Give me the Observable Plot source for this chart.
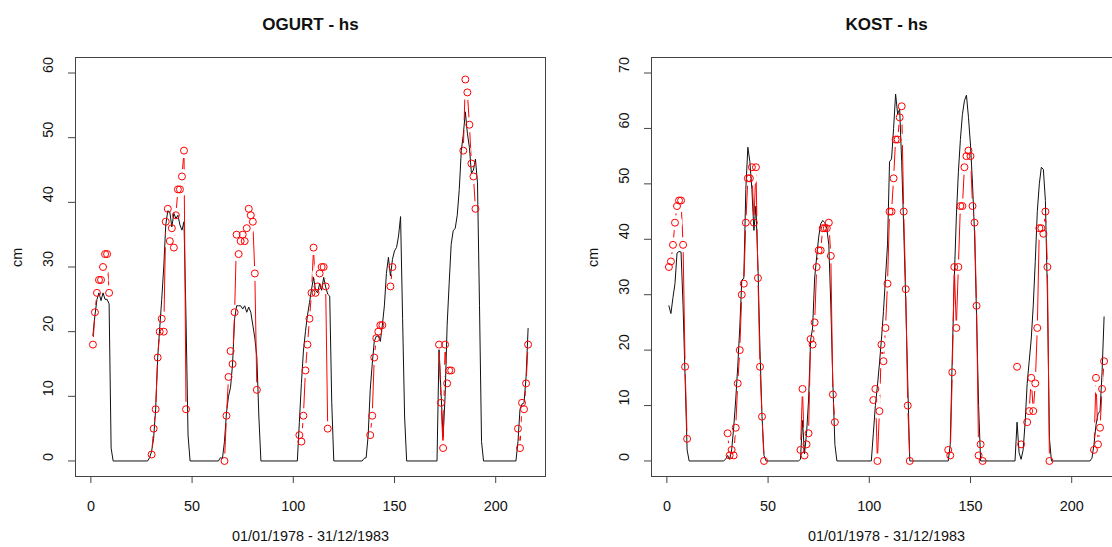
<!DOCTYPE html>
<html><head><meta charset="utf-8">
<script src="https://cdn.jsdelivr.net/npm/d3@7"></script>
<script src="https://cdn.jsdelivr.net/npm/@observablehq/plot@0.6"></script>
<style>
html,body{margin:0;padding:0;background:#fff;}
#wrap{position:relative;width:1112px;height:547px;overflow:hidden;background:#fff;}
.panel{position:absolute;top:0;width:576px;height:547px;}
.panel svg{max-width:none !important;width:576px !important;height:547px !important;}
</style></head><body><div id="wrap"></div>
<script>
// ---- shared axis text ----
const xTicks = [0, 50, 100, 150, 200];
const xLabel = "01/01/1978 - 31/12/1983";
const yLabel = "cm";

// ---- OGURT (left panel) ----
const ogurtTitle = "OGURT - hs";
const ogurtYTicks = [0, 10, 20, 30, 40, 50, 60];
const ogurtSimX = [1,2,3,4,5,6,7,8,9,10,11,
  28,29,30,31,32,33,34,35,36,37,38,39,40,41,42,43,44,45,46,47,48,49,
  63,64,65,66,67,68,69,70,71,72,73,74,75,76,77,78,79,80,81,82,83,84,
  102,103,104,105,106,107,108,109,110,111,112,113,114,115,116,117,118,119,120,
  134,135,136,137,138,139,140,141,142,143,144,145,146,147,148,149,150,151,152,153,154,155,156,
  171,172,173,174,175,176,177,178,179,180,181,182,183,184,185,186,187,188,189,190,191,192,193,194,
  210,211,212,213,214,215,216];
const ogurtSimY = [19.4,22.5,25,26,24.8,26,25,25,24.3,2,0,
  0,0.5,1.5,3.5,8,16,20.5,25,30,36.5,38.7,38.5,36.2,38.3,37.5,38,36.5,35.7,37,22,4,0,
  0,0.5,0.4,3,7.5,10,11.4,15,22,24,24,24,23.5,24,23,23.8,23,21,19,16,6.8,0,
  0,6,12,17,20,22.5,24.5,26.5,28.4,26.4,26,27.4,26.4,28.4,26.9,25.8,25.5,9,0,
  0,0.4,0.5,4,11,15,18.5,19.3,19.3,18.5,21,24,29,31.5,28.6,31.2,32.5,33,34.8,37.8,22,6.8,0,
  0,17.2,10.5,3.7,10,21,27.4,33.5,35.6,36,38,42,48,50.5,54,50.7,48.5,44.5,45,46.7,43,24,3,0,
  0,3,8,8.8,9,13,20.5];
const ogurtObsX = [1,2,3,4,5,6,7,8,9,
  30,31,32,33,34,35,36,37,38,39,40,41,42,43,44,45,46,47,
  66,67,68,69,70,71,72,73,74,75,76,77,78,79,80,81,82,
  103,104,105,106,107,108,109,110,111,112,113,114,115,116,117,
  138,139,140,141,142,143,144,148,149,
  172,173,174,175,176,177,178,
  184,185,186,187,188,189,190,
  211,212,213,214,215,216];
const ogurtObsY = [18,23,26,28,28,30,32,32,26,
  1,5,8,16,20,22,20,37,39,34,36,33,38,42,42,44,48,8,
  0,7,13,17,15,23,35,32,34,35,34,36,39,38,37,29,11,
  4,3,7,14,18,22,26,33,26,27,29,30,30,27,5,
  4,7,16,19,20,21,21,27,30,
  18,9,2,18,12,14,14,
  48,59,57,52,46,44,39,
  5,2,9,8,12,18];

// ---- KOST (right panel) ----
const kostTitle = "KOST - hs";
const kostYTicks = [0, 10, 20, 30, 40, 50, 60, 70];
const kostSimX = [1,2,3,4,5,6,7,8,9,10,11,
  28,29,30,31,32,33,34,35,36,37,38,39,40,41,42,43,44,45,46,47,48,49,
  65,66,67,68,69,70,71,72,73,74,75,76,77,78,79,80,81,82,83,84,
  101,102,103,104,105,106,107,108,109,110,111,112,113,114,115,116,117,118,119,120,
  139,140,141,142,143,144,145,146,147,148,149,150,151,152,153,154,155,
  171,172,173,174,175,176,177,178,179,180,181,182,183,184,185,186,187,188,189,190,
  209,210,211,212,213,214,215,216];
const kostSimY = [28,26.6,29.5,32,37.5,37.8,37.7,28,15,2,0,
  0,0.3,1,0.3,2,6,11,17,24,32.6,33,49,56.6,54,49,41.6,46,35,20,8,1,0,
  0,0.3,7.3,1.3,5,11,21.8,24,33,36.8,40.4,42.8,43.4,43,42,39,28,14,3,0,
  0,5,10,13.5,17.5,22,27,33,39,54,54.5,60,66.2,62.6,63.5,54,42,29,14,0,
  0,3,19,33,44,52,58,62.5,65,66,62,57,50,41,26,10,0,
  0,0,7,1.5,0.3,2,7,14,18,22,28,36,45,50,53,52.6,47,30,4,0,
  0,0.5,3,6.5,8.5,9,16,26];
const kostObsX = [1,2,3,4,5,6,7,8,9,10,
  30,31,32,33,34,35,36,37,38,39,40,41,42,43,44,45,46,47,48,
  66,67,68,69,70,71,72,73,74,75,76,77,78,79,80,81,82,83,
  102,103,104,105,106,107,108,109,110,111,112,113,114,115,116,117,118,119,120,
  139,140,141,142,143,144,145,146,147,148,149,150,151,152,153,154,155,156,
  173,
  175,
  178,179,180,181,182,183,184,185,186,187,188,189,
  211,212,213,214,215,216];
const kostObsY = [35,36,39,43,46,47,47,39,17,4,
  5,1,2,1,6,14,20,30,32,43,51,51,53,43,53,33,17,8,0,
  2,13,1,3,5,22,21,25,35,38,38,42,42,42,43,37,12,7,
  11,13,0,9,21,18,24,32,45,45,51,58,58,62,64,45,31,10,0,
  2,1,16,35,24,35,46,46,53,55,56,55,46,43,28,1,3,0,
  17,
  3,
  7,9,15,9,14,24,42,42,41,45,35,0,
  2,15,3,6,13,18];

const FONT = '"Liberation Sans", Arial, Helvetica, sans-serif';

function buildPanel({title, yTicks, simX, simY, obsX, obsY}) {
  const sim = simX.map((x, i) => ({x, y: simY[i]}));
  let seg = 0;
  const obs = obsX.map((x, i) => {
    if (i > 0 && x - obsX[i - 1] > 1) seg++;
    return {x, y: obsY[i], seg};
  });
  const [x0, x1] = d3.extent(simX);
  const xPad = 0.04 * (x1 - x0);
  const yTop = yTicks[yTicks.length - 1];
  const yPad = 0.04 * yTop;
  return Plot.plot({
    width: 576, height: 547,
    marginTop: 57, marginBottom: 71, marginLeft: 75, marginRight: 31,
    x: {domain: [x0 - xPad, x1 + xPad]},
    y: {domain: [-yPad, yTop + yPad]},
    style: {fontFamily: FONT, fontSize: "14.4px", background: "white", color: "#111", maxWidth: "none"},
    marks: [
      Plot.frame({stroke: "#444", strokeWidth: 1}),
      Plot.axisX({ticks: xTicks, tickSize: 7, tickPadding: 17, fontSize: 14.4, label: null, stroke: "#444", fill: "#111"}),
      Plot.axisY({ticks: yTicks, tickSize: 7, fill: "none", stroke: "#444"}),
      Plot.text(yTicks, {y: d => d, text: d => String(d), frameAnchor: "left", dx: -27, rotate: -90, fontSize: 14.4, fill: "#111"}),
      Plot.text([yLabel], {text: d => d, frameAnchor: "left", dx: -58, rotate: -90, fontSize: 14.4, fill: "#111"}),
      Plot.text([xLabel], {text: d => d, frameAnchor: "bottom", dy: 64, fontSize: 14.4, fill: "#111"}),
      Plot.text([title], {text: d => d, frameAnchor: "top", dy: -40, fontSize: 17, fontWeight: "bold", fill: "#111"}),
      Plot.line(sim, {x: "x", y: "y", stroke: "#111", strokeWidth: 1}),
      Plot.line(obs, {x: "x", y: "y", z: "seg", stroke: "red", strokeWidth: 1}),
      Plot.dot(obs, {x: "x", y: "y", r: 3.5, stroke: "red", fill: "none", strokeWidth: 1})
    ]
  });
}

// R's type="b": observed line segments stop short of each point
function gapMask(node, id, gap) {
  const NS = "http://www.w3.org/2000/svg";
  const svg = node.tagName.toLowerCase() === "svg" ? node : node.querySelector("svg");
  const lines = svg.querySelectorAll('g[aria-label="line"]');
  const lineG = lines[lines.length - 1];
  const dotG = svg.querySelector('g[aria-label="dot"]');
  if (!lineG || !dotG) return;
  const box = svg.getBoundingClientRect();
  const sx = 576 / box.width, sy = 547 / box.height;
  const mask = document.createElementNS(NS, "mask");
  mask.setAttribute("id", id);
  mask.setAttribute("maskUnits", "userSpaceOnUse");
  mask.setAttribute("x", 0); mask.setAttribute("y", 0);
  mask.setAttribute("width", 576); mask.setAttribute("height", 547);
  const rect = document.createElementNS(NS, "rect");
  rect.setAttribute("x", 0); rect.setAttribute("y", 0);
  rect.setAttribute("width", 576); rect.setAttribute("height", 547);
  rect.setAttribute("fill", "white");
  mask.appendChild(rect);
  for (const c of dotG.querySelectorAll("circle")) {
    const r = c.getBoundingClientRect();
    const m = document.createElementNS(NS, "circle");
    m.setAttribute("cx", (r.x + r.width / 2 - box.x) * sx);
    m.setAttribute("cy", (r.y + r.height / 2 - box.y) * sy);
    m.setAttribute("r", gap);
    m.setAttribute("fill", "black");
    mask.appendChild(m);
  }
  const defs = document.createElementNS(NS, "defs");
  defs.appendChild(mask);
  svg.insertBefore(defs, svg.firstChild);
  const wrap = document.createElementNS(NS, "g");
  wrap.setAttribute("mask", `url(#${id})`);
  lineG.parentNode.insertBefore(wrap, lineG);
  wrap.appendChild(lineG);
}

const wrapEl = document.getElementById("wrap");
const panels = [
  {left: 0, id: "gapO", cfg: {title: ogurtTitle, yTicks: ogurtYTicks, simX: ogurtSimX, simY: ogurtSimY, obsX: ogurtObsX, obsY: ogurtObsY}},
  {left: 576, id: "gapK", cfg: {title: kostTitle, yTicks: kostYTicks, simX: kostSimX, simY: kostSimY, obsX: kostObsX, obsY: kostObsY}}
];
for (const p of panels) {
  const div = document.createElement("div");
  div.className = "panel";
  div.style.left = p.left + "px";
  const chart = buildPanel(p.cfg);
  div.appendChild(chart);
  wrapEl.appendChild(div);
  gapMask(chart, p.id, 7.5);
}
</script>
</body></html>
